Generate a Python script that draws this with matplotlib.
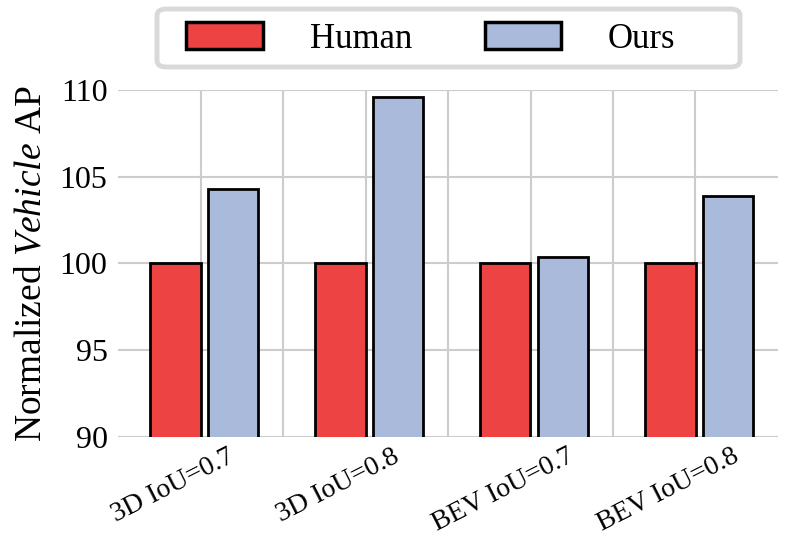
import matplotlib
matplotlib.use("Agg")
import matplotlib.pyplot as plt
from matplotlib.patches import FancyBboxPatch
import numpy as np

categories = ["3D IoU=0.7", "3D IoU=0.8", "BEV IoU=0.7", "BEV IoU=0.8"]
human = [100.0, 100.0, 100.0, 100.0]
ours = [104.3, 109.6, 100.4, 103.9]
series_names = ["Human", "Ours"]
yticks = [90, 95, 100, 105, 110]

plt.rcParams['font.family'] = ['Liberation Serif', 'DejaVu Serif']
plt.rcParams['mathtext.fontset'] = 'custom'
plt.rcParams['mathtext.rm'] = 'Liberation Serif'
plt.rcParams['mathtext.it'] = 'Liberation Serif:italic'

W, H = 788, 538
fig = plt.figure(figsize=(W / 100, H / 100), dpi=100)
ax = fig.add_axes([118 / W, 1 - 437 / H, 660 / W, 347 / H])

x = np.arange(len(categories))
w = 0.305
red = '#ED4343'
blue = '#AABADA'
b1 = ax.bar(x - w / 2, human, w, color=red, edgecolor='black', linewidth=2.0, label=series_names[0], zorder=3)
b2 = ax.bar(x + w / 2 + 0.045, ours, w, color=blue, edgecolor='black', linewidth=2.0, label=series_names[1], zorder=3)

ax.set_ylim(90, 110)
ax.set_xlim(-0.5, 3.5)
ax.set_yticks(yticks)
ax.set_yticklabels([str(v) for v in yticks], fontsize=23)

ax.set_xticks(x - 0.165)
ax.set_xticklabels(categories, rotation=27, ha='center', fontsize=20)
ax.set_xticks(np.arange(0, 3.01, 0.5), minor=True)
ax.tick_params(axis='both', which='both', length=0)
ax.tick_params(axis='x', which='major', pad=5)
ax.tick_params(axis='y', pad=7.5)

ax.grid(False)
ax.xaxis.grid(True, which='minor', color='#cccccc', linewidth=1.5, zorder=0)
ax.yaxis.grid(True, which='major', color='#cccccc', linewidth=1.5, zorder=0)
ax.set_axisbelow(True)
for s in ax.spines.values():
    s.set_visible(False)

ax.set_ylabel("Normalized $\\mathit{Vehicle}$ AP", fontsize=27, labelpad=8)

# legend frame drawn separately (wider horizontal padding than vertical)
frame = FancyBboxPatch((157 / W, 1 - 67 / H), (740 - 157) / W, (67 - 9) / H,
                       boxstyle="round,pad=0,rounding_size=0.012",
                       transform=fig.transFigure, facecolor='white',
                       edgecolor='#d9d9d9', linewidth=3.5, zorder=5)
fig.patches.append(frame)

leg = fig.legend(handles=[b1, b2], labels=series_names, loc='center',
                 bbox_to_anchor=(431 / W, 1 - 39 / H),
                 ncol=2, fontsize=25,
                 frameon=False, handlelength=2.2, handleheight=0.8,
                 handletextpad=1.35, columnspacing=2.1, borderpad=0.3)
leg.set_zorder(6)
for h in leg.legend_handles:
    h.set_linewidth(2.5)

fig.savefig("out.png", dpi=100)
